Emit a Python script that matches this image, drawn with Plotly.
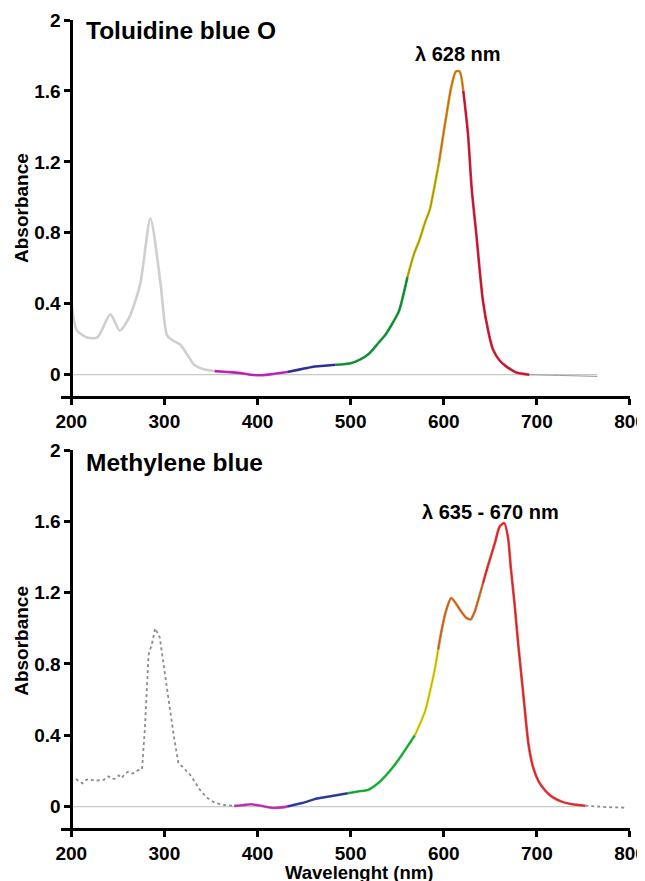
import plotly.graph_objects as go

# ---------------- data ----------------
tbo_wl = [200, 206, 217, 228, 242, 252, 262, 274, 285, 296, 303, 310, 317, 325, 332, 342, 354,
          368, 380, 393, 405, 418, 432, 446, 460, 472, 484, 500, 510, 520, 530, 538, 545, 552,
          561, 568, 574, 580, 585, 590, 595, 600, 604, 608, 613, 617, 621, 626, 630, 635, 642,
          648, 653, 660, 667, 678, 692, 730, 765]
tbo_abs = [0.42, 0.25, 0.21, 0.21, 0.34, 0.25, 0.32, 0.51, 0.88, 0.51, 0.22, 0.19, 0.17, 0.11,
           0.056, 0.03, 0.02, 0.015, 0.01, 0.0, -0.003, 0.005, 0.015, 0.03, 0.045, 0.05, 0.056,
           0.065, 0.085, 0.12, 0.18, 0.23, 0.29, 0.36, 0.55, 0.68, 0.76, 0.86, 0.93, 1.06, 1.2,
           1.37, 1.5, 1.62, 1.71, 1.71, 1.6, 1.36, 1.05, 0.79, 0.42, 0.24, 0.14, 0.08, 0.047,
           0.012, 0.0, -0.005, -0.01]
tbo_band_edges = [200, 354, 432, 484, 561, 595, 621, 692, 765]

mb_wl = [205, 209, 212, 216, 219, 225, 230, 235, 240, 244, 247, 251, 254, 258, 261, 266, 272,
         276, 279, 283, 287, 290, 295, 300, 304, 310, 315, 322, 329, 335, 340, 347, 354, 363,
         375, 384, 393, 405, 418, 432, 448, 464, 480, 497, 508, 519, 528, 537, 546, 555, 562,
         569, 575, 580, 585, 590, 594, 597, 602, 608, 613, 618, 624, 629, 633, 636, 642, 648,
         655, 660, 665, 669, 672, 676, 680, 686, 691, 696, 702, 709, 716, 728, 738, 752, 775, 797]
mb_abs = [0.155, 0.14, 0.13, 0.15, 0.155, 0.145, 0.148, 0.15, 0.17, 0.155, 0.157, 0.175, 0.16,
          0.185, 0.195, 0.185, 0.205, 0.21, 0.43, 0.85, 0.92, 1.0, 0.95, 0.78, 0.62, 0.4, 0.245,
          0.21, 0.17, 0.12, 0.08, 0.045, 0.022, 0.01, 0.004, 0.008, 0.013, 0.003, -0.008, 0.0,
          0.02, 0.045, 0.06, 0.075, 0.085, 0.094, 0.125, 0.17, 0.225, 0.29, 0.345, 0.40, 0.47,
          0.535, 0.64, 0.76, 0.88, 0.97, 1.09, 1.17, 1.14, 1.10, 1.06, 1.05, 1.09, 1.14, 1.25,
          1.36, 1.48, 1.57, 1.59, 1.51, 1.34, 1.14, 0.91, 0.6, 0.35, 0.22, 0.14, 0.09, 0.056,
          0.025, 0.013, 0.005, -0.003, -0.006]
mb_band_edges = [205, 375, 432, 497, 569, 594, 642, 752, 797]

band_names = ["uv", "violet", "blue", "green", "yellow", "orange", "red", "nir"]

y_ticks = [0, 0.4, 0.8, 1.2, 1.6, 2]
y_tick_labels = ["0", "0.4", "0.8", "1.2", "1.6", "2"]
x_ticks = [200, 300, 400, 500, 600, 700, 800]
x_tick_labels = ["200", "300", "400", "500", "600", "700", "800"]

# ---------------- styles ----------------
tbo_style = {
    "uv": dict(color="#cfcfcf", width=2.6, dash="solid"),
    "violet": dict(color="#d02cc4", width=2.6, dash="solid"),
    "blue": dict(color="#2c38a4", width=2.6, dash="solid"),
    "green": dict(color="#16a03c", width=2.6, dash="solid"),
    "yellow": dict(color="#c9bd0c", width=2.6, dash="solid"),
    "orange": dict(color="#e08e1c", width=2.6, dash="solid"),
    "red": dict(color="#dc1e3c", width=2.6, dash="solid"),
    "nir": dict(color="#9a9a9a", width=1, dash="solid"),
}
mb_style = {
    "uv": dict(color="#8c8c8c", width=1.8, dash="dot"),
    "violet": dict(color="#d03cc0", width=2.6, dash="solid"),
    "blue": dict(color="#3040b0", width=2.6, dash="solid"),
    "green": dict(color="#1ec040", width=2.6, dash="solid"),
    "yellow": dict(color="#e6de1e", width=2.6, dash="solid"),
    "orange": dict(color="#e07a32", width=2.6, dash="solid"),
    "red": dict(color="#f03a3a", width=2.6, dash="solid"),
    "nir": dict(color="#8c8c8c", width=1.8, dash="dot"),
}

FONT = "Liberation Sans"
fig = go.Figure()


def add_spectrum(wl, ab, edges, style, xa, ya, core):
    for i, name in enumerate(band_names):
        lo, hi = edges[i], edges[i + 1]
        xs = [w for w in wl if lo <= w <= hi]
        ys = [a for w, a in zip(wl, ab) if lo <= w <= hi]
        st = style[name]
        shape = "linear" if (st["dash"] == "dot") else "spline"
        fig.add_trace(go.Scatter(x=xs, y=ys, mode="lines", xaxis=xa, yaxis=ya,
                                 line=dict(color=st["color"], width=st["width"], dash=st["dash"],
                                           shape=shape, smoothing=0.7),
                                 hoverinfo="skip", showlegend=False))
        if core and name not in ("uv", "nir"):
            fig.add_trace(go.Scatter(x=xs, y=ys, mode="lines", xaxis=xa, yaxis=ya,
                                     line=dict(color="rgba(40,20,20,0.35)", width=0.8,
                                               shape="spline", smoothing=0.7),
                                     hoverinfo="skip", showlegend=False))


# zero baselines
fig.add_trace(go.Scatter(x=[tbo_band_edges[0], tbo_band_edges[-1]], y=[0, 0], mode="lines",
                         xaxis="x", yaxis="y", line=dict(color="#c8c8c8", width=1.2),
                         hoverinfo="skip", showlegend=False))
fig.add_trace(go.Scatter(x=[200, mb_band_edges[-2]], y=[0, 0], mode="lines",
                         xaxis="x2", yaxis="y2", line=dict(color="#c8c8c8", width=1.2),
                         hoverinfo="skip", showlegend=False))

add_spectrum(tbo_wl, tbo_abs, tbo_band_edges, tbo_style, "x", "y", True)
add_spectrum(mb_wl, mb_abs, mb_band_edges, mb_style, "x2", "y2", True)

tickfont = dict(family=FONT, size=19, color="black", weight="bold")
axis_common = dict(showline=True, linecolor="black", linewidth=2.5, ticks="outside",
                   ticklen=6, tickwidth=2.5, tickcolor="black", showgrid=False,
                   zeroline=False, tickfont=tickfont, automargin=False)

xr = [189, 800.01]
yr = [-0.12, 2.0]
ypos = (200 - xr[0]) / (xr[1] - xr[0])

# the page body adds an 8 px offset; the figure is sized so it fits the 645x881 window
fig.update_layout(
    width=637, height=873,
    margin=dict(l=53, r=15, t=12, b=53, autoexpand=False),
    paper_bgcolor="white", plot_bgcolor="white",
    showlegend=False,
    xaxis=dict(domain=[0, 1], range=xr, anchor="y", tickvals=x_ticks, ticktext=x_tick_labels,
               ticklabeloverflow="allow", **axis_common),
    yaxis=dict(domain=[0.5347, 1], range=yr, anchor="free", position=ypos, tickvals=y_ticks,
               ticktext=y_tick_labels, ticklabeloverflow="allow", **axis_common),
    xaxis2=dict(domain=[0, 1], range=xr, anchor="y2", tickvals=x_ticks, ticktext=x_tick_labels,
                ticklabeloverflow="allow", **axis_common),
    yaxis2=dict(domain=[0, 0.4678], range=yr, anchor="free", position=ypos, tickvals=y_ticks,
                ticktext=y_tick_labels, ticklabeloverflow="allow", **axis_common),
)

title_font = dict(family=FONT, size=24.5, color="black", weight="bold")
ann_font = dict(family=FONT, size=20, color="black", weight="bold")
lab_font = dict(family=FONT, size=19, color="black", weight="bold")
xlab_font = dict(family=FONT, size=18.5, color="black", weight="bold")

fig.add_annotation(text="Toluidine blue O", x=213.5, y=1.94, xref="x", yref="y",
                   xanchor="left", yanchor="middle", showarrow=False, font=title_font)
fig.add_annotation(text="Methylene blue", x=213.5, y=1.93, xref="x2", yref="y2",
                   xanchor="left", yanchor="middle", showarrow=False, font=title_font)
fig.add_annotation(text="λ 628 nm", x=615, y=1.81, xref="x", yref="y",
                   xanchor="center", yanchor="middle", showarrow=False, font=ann_font)
fig.add_annotation(text="λ 635 - 670 nm", x=650, y=1.65, xref="x2", yref="y2",
                   xanchor="center", yanchor="middle", showarrow=False, font=ann_font)
fig.add_annotation(text="Absorbance", x=-0.0685, y=0.94, xref="paper", yref="y",
                   textangle=-90, xanchor="center", yanchor="middle", showarrow=False,
                   font=lab_font)
fig.add_annotation(text="Absorbance", x=-0.0685, y=0.93, xref="paper", yref="y2",
                   textangle=-90, xanchor="center", yanchor="middle", showarrow=False,
                   font=lab_font)
fig.add_annotation(text="Wavelenght (nm)", x=0.524, y=-0.0545, xref="paper", yref="paper",
                   xanchor="center", yanchor="middle", showarrow=False, font=xlab_font)

fig.write_html("out.html")
